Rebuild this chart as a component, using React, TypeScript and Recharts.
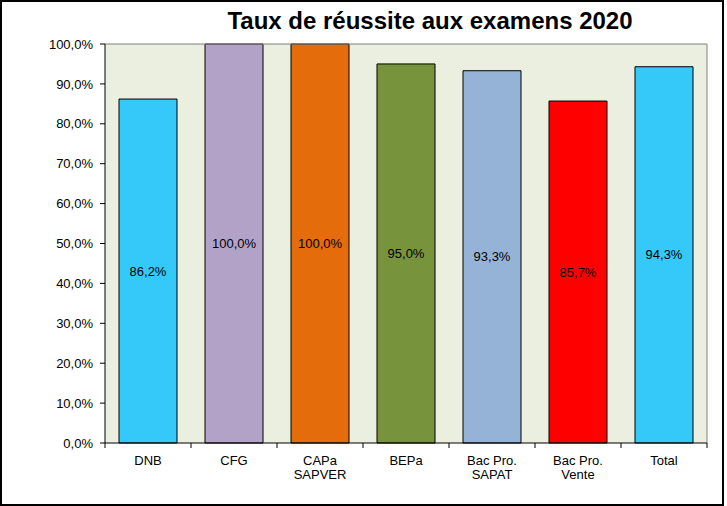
import { BarChart, Bar, XAxis, YAxis, CartesianGrid, Cell, LabelList } from 'recharts';

const categories = ['DNB', 'CFG', 'CAPa\nSAPVER', 'BEPa', 'Bac Pro.\nSAPAT', 'Bac Pro.\nVente', 'Total'];
const rates = [0.862, 1.0, 1.0, 0.95, 0.933, 0.857, 0.943];
const barColors = ['#35C9F9', '#B3A2C7', '#E46C0A', '#77933C', '#95B3D7', '#FF0000', '#35C9F9'];
const yTicks = [0, 0.1, 0.2, 0.3, 0.4, 0.5, 0.6, 0.7, 0.8, 0.9, 1.0];

const data = categories.map((name, i) => ({ name, value: rates[i] }));

const FONT = '"Liberation Sans", Arial, sans-serif';

const pct = (v: number) => (v * 100).toFixed(1).replace('.', ',') + '%';

// category label + tick marks on the band edges (Excel style)
function CategoryTick(props: any) {
  const { x, y, payload, index, visibleTicksCount, width } = props;
  const half = payload && payload.offset > 0 ? payload.offset : width / visibleTicksCount / 2;
  const lines = String(payload.value).split('\n');
  const top = y - 8;
  return (
    <g>
      <line x1={x - half} x2={x - half} y1={top} y2={top + 5} stroke="#000" strokeWidth={1} />
      {index === visibleTicksCount - 1 && (
        <line x1={x + half} x2={x + half} y1={top} y2={top + 5} stroke="#000" strokeWidth={1} />
      )}
      <text x={x} y={y} textAnchor="middle" fontFamily={FONT} fontSize={13} fill="#000" stroke="none">
        {lines.map((l, i) => (
          <tspan key={i} x={x} dy={14}>{l}</tspan>
        ))}
      </text>
    </g>
  );
}

export default function App() {
  return (
    <div style={{ position: 'absolute', left: 0, top: 0, width: 727, height: 506, background: '#fff' }}>
      <div style={{ position: 'absolute', left: 0, top: 0, width: 724, height: 506, border: '2px solid #000', boxSizing: 'border-box' }} />
      <div
        style={{
          position: 'absolute',
          left: 430,
          top: 7,
          transform: 'translateX(-50%)',
          fontFamily: FONT,
          fontWeight: 'bold',
          fontSize: 24,
          lineHeight: '28px',
          whiteSpace: 'nowrap',
          color: '#000',
        }}
      >
        Taux de réussite aux examens 2020
      </div>
      <div style={{ position: 'absolute', left: 0, top: 0 }}>
        <BarChart width={727} height={506} data={data} margin={{ top: 43, right: 19, bottom: 0, left: 0 }}>
          <CartesianGrid horizontal={false} vertical={false} fill="#EBEFDF" />
          <XAxis xAxisId="top" orientation="top" dataKey="name" height={1} tick={false} tickLine={false}
            axisLine={{ stroke: '#808080' }} />
          <YAxis yAxisId="right" orientation="right" width={1} domain={[0, 1]} tick={false} tickLine={false}
            axisLine={{ stroke: '#808080' }} />
          <XAxis dataKey="name" height={63} interval={0} tick={<CategoryTick />} tickLine={false}
            axisLine={{ stroke: '#000' }} />
          <YAxis domain={[0, 1]} ticks={yTicks} width={105} tickFormatter={pct} tickSize={5} tickMargin={7}
            tick={{ fontFamily: FONT, fontSize: 13, fill: '#000' }} tickLine={{ stroke: '#000' }}
            axisLine={{ stroke: '#000' }} interval={0} />
          <Bar dataKey="value" barSize={58} stroke="#000" strokeWidth={1} isAnimationActive={false}>
            {data.map((d, i) => (
              <Cell key={d.name} fill={barColors[i]} />
            ))}
            <LabelList dataKey="value" position="center" formatter={(v: any) => pct(Number(v))}
              style={{ fontFamily: FONT, fontSize: 13, fill: '#000' }} />
          </Bar>
        </BarChart>
      </div>
    </div>
  );
}
